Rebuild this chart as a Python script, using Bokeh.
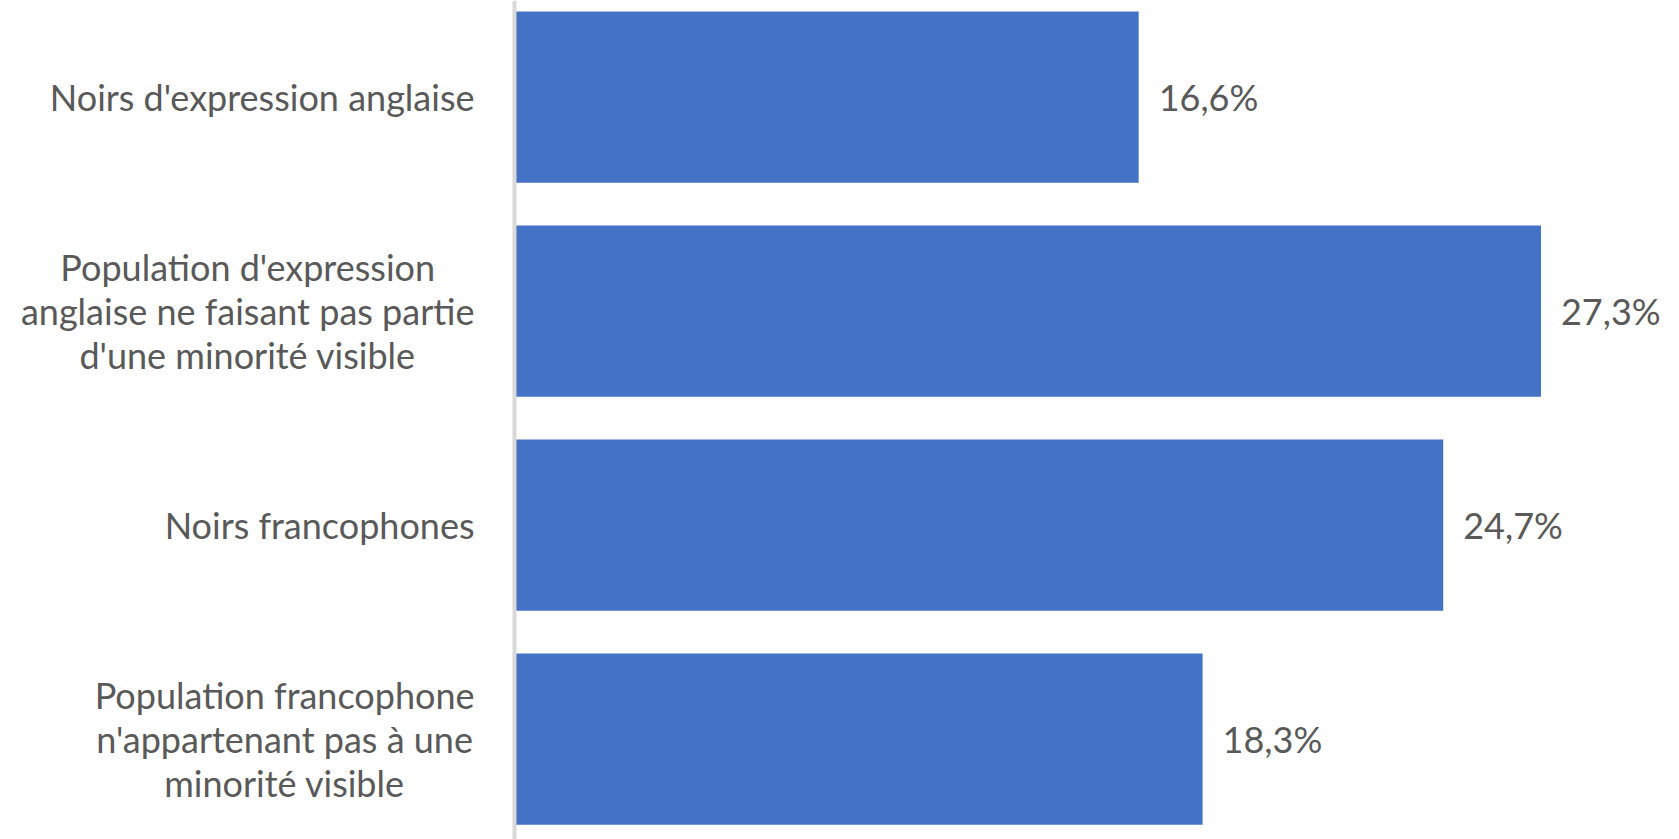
import glob
import subprocess
from bokeh.plotting import figure
from bokeh.models import Range1d, Span, ColumnDataSource
from bokeh.embed import file_html
from bokeh.resources import INLINE
from bokeh.core.properties import value

categories = [
    "Noirs d'expression anglaise",
    "Population d'expression\nanglaise ne faisant pas partie\nd'une minorité visible",
    "Noirs francophones",
    "Population francophone\nn'appartenant pas à une\nminorité visible",
]
values = [16.6, 27.3, 24.7, 18.3]
value_labels = ["16,6%", "27,3%", "24,7%", "18,3%"]

FONT = "Lato"
TXT = "#595959"
FS_PX = 36
FS = f"{FS_PX}px"
W, H = 1679, 839
AXIS_PX = 514          # pixel position of the value axis (zero)
PX_PER_UNIT = 37.6     # horizontal scale, px per percentage point
LABEL_GAP = 40         # px between label block and axis


def _font_path():
    try:
        out = subprocess.run(["fc-match", "-f", "%{file}", "Lato:style=Regular"],
                             capture_output=True, text=True, timeout=5).stdout.strip()
        if out and "ato" in out:
            return out
    except Exception:
        pass
    hits = glob.glob("/usr/share/fonts/**/Lato-Regular.ttf", recursive=True)
    return hits[0] if hits else None


def block_width(s):
    lines = s.split("\n")
    try:
        from PIL import ImageFont
        f = ImageFont.truetype(_font_path(), FS_PX)
        return max(f.getlength(t) for t in lines)
    except Exception:
        return max(len(t) for t in lines) * FS_PX * 0.48


n = len(categories)
ypos = [n - 1 - i for i in range(n)]
label_x = [-(LABEL_GAP + block_width(c) / 2) / PX_PER_UNIT for c in categories]

p = figure(width=W, height=H, output_backend="svg", toolbar_location=None,
           x_range=Range1d(-AXIS_PX / PX_PER_UNIT, (W - AXIS_PX) / PX_PER_UNIT),
           y_range=Range1d(-0.4687, 3.4519),
           x_axis_location=None, y_axis_location=None,
           min_border_left=0, min_border_right=0, min_border_top=0, min_border_bottom=0)

p.hbar(y=ypos, left=0, right=values, height=0.8, fill_color="#4472C4", line_color=None)
p.add_layout(Span(location=0, dimension="height", line_color="#D9D9D9", line_width=4))

p.text(x=values, y=ypos, text=value_labels, x_offset=20, text_baseline="middle",
       text_align="left", text_font=value(FONT), text_font_size=FS, text_color=TXT)

src = ColumnDataSource(dict(x=label_x, y=ypos, t=categories))
p.text(x="x", y="y", text="t", source=src, text_align="center", text_baseline="middle",
       text_font=value(FONT), text_font_size=FS, text_color=TXT, text_line_height=1.0)

p.grid.visible = False
p.outline_line_color = None
p.background_fill_color = "white"
p.border_fill_color = "white"

open("out.html", "w").write(file_html(p, INLINE))
